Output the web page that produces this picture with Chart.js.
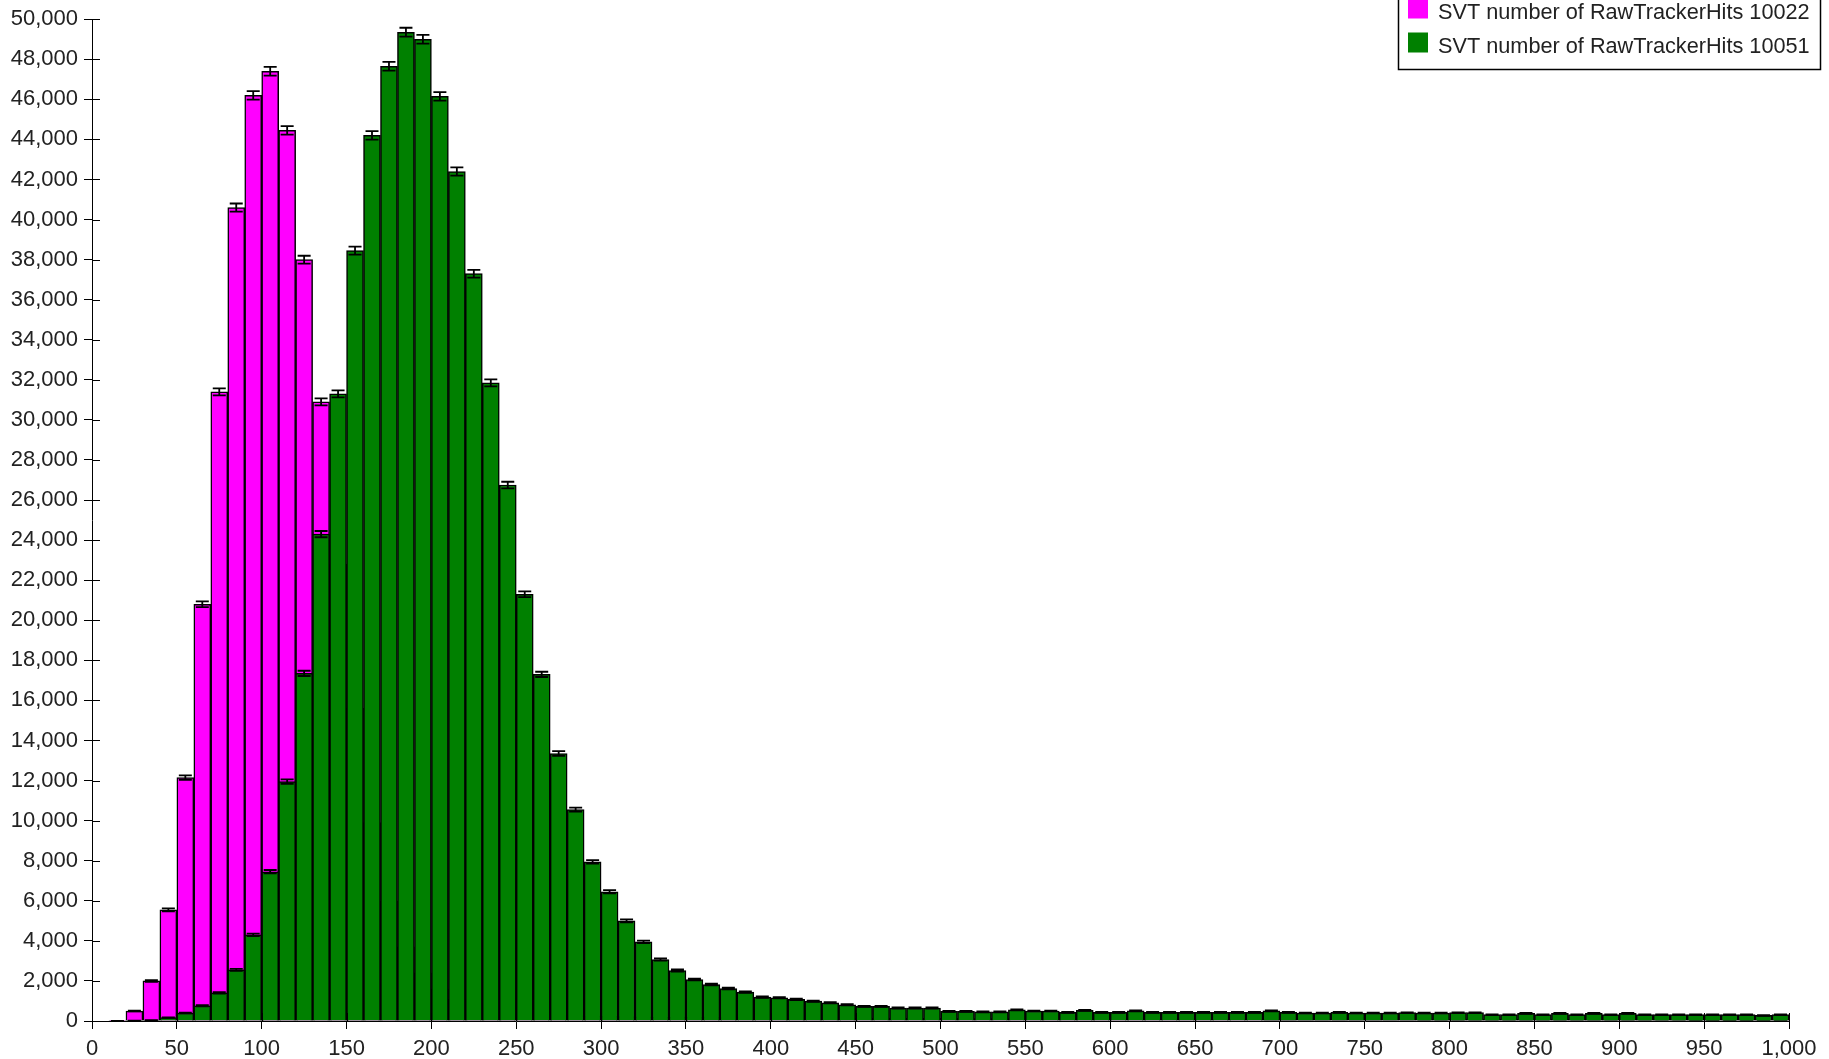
<!DOCTYPE html>
<html>
<head>
<meta charset="utf-8">
<script src="https://cdn.jsdelivr.net/npm/chart.js@4/dist/chart.umd.min.js"></script>
<style>
  html, body { margin: 0; padding: 0; background: #ffffff; }
  #wrap { width: 1829px; height: 1059px; position: relative; }
</style>
</head>
<body>
<div id="wrap"><canvas id="hist" width="1829" height="1059"></canvas></div>
<script>
// Histogram binning: 100 bins of width 10 from 0 to 1000
const binLow = 0;
const binHigh = 1000;
const binWidth = 10;
const xTickStep = 50;
const yMax = 50000;
const yTickStep = 2000;

const seriesLabels = [
  'SVT number of RawTrackerHits 10022',
  'SVT number of RawTrackerHits 10051'
];
const seriesColors = ['#ff00ff', '#008000'];

// Entries per bin, run 10022
const hits10022 = [
  0, 5, 500, 2000, 5550, 12150, 20800, 31400, 40600, 46200,
  47400, 44450, 38000, 30900, 22800, 15600, 9900, 6000, 3700, 2400,
  1600, 1100, 800, 600, 480, 400, 340, 300, 270, 250,
  230, 220, 210, 200, 190, 185, 180, 175, 170, 165,
  160, 155, 150, 150, 145, 140, 140, 135, 135, 130,
  130, 125, 125, 120, 120, 120, 115, 115, 115, 110,
  110, 110, 105, 105, 105, 100, 100, 100, 100, 95,
  95, 95, 95, 90, 90, 90, 90, 90, 85, 85,
  85, 85, 85, 80, 80, 80, 80, 80, 80, 75,
  75, 75, 75, 75, 70, 70, 70, 70, 70, 70
];

// Entries per bin, run 10051
const hits10051 = [
  0, 0, 10, 40, 170, 400, 760, 1400, 2550, 4300,
  7450, 11950, 17350, 24300, 31300, 38450, 44200, 47650, 49350, 49000,
  46150, 42400, 37300, 31850, 26750, 21300, 17300, 13350, 10550, 7940,
  6450, 5000, 3950, 3070, 2520, 2070, 1820, 1620, 1440, 1190,
  1160, 1080, 990, 910, 810, 730, 730, 650, 650, 650,
  480, 480, 455, 455, 560, 500, 500, 430, 530, 430,
  430, 510, 430, 430, 430, 430, 430, 430, 430, 510,
  430, 400, 400, 430, 400, 400, 400, 415, 400, 400,
  415, 415, 315, 315, 380, 315, 380, 315, 380, 315,
  380, 315, 315, 315, 315, 315, 315, 315, 280, 315
];

const binCenters = hits10022.map((_, i) => binLow + binWidth * (i + 0.5));
const toPoints = (counts) => counts.map((c, i) => ({ x: binCenters[i], y: c }));

const tickFont = { family: '"Liberation Sans", Arial, sans-serif', size: 22 };
const textColor = '#222222';

// Statistical (sqrt N) error bars, drawn right after each dataset so that
// a later dataset covers the bars and errors underneath it.
const errorBars = {
  id: 'errorBars',
  afterDatasetDraw(chart, args) {
    const ctx = chart.ctx;
    const yScale = chart.scales.y;
    const pts = chart.data.datasets[args.index].data;
    ctx.save();
    ctx.strokeStyle = '#000000';
    ctx.lineWidth = 1.8;
    args.meta.data.forEach((bar, i) => {
      const v = pts[i].y;
      if (!v) return;
      const e = Math.sqrt(v);
      const yTop = yScale.getPixelForValue(v + e);
      const yBot = yScale.getPixelForValue(v - e);
      const half = 6.5;
      ctx.beginPath();
      ctx.moveTo(bar.x, yTop); ctx.lineTo(bar.x, yBot);
      ctx.moveTo(bar.x - half, yTop); ctx.lineTo(bar.x + half, yTop);
      ctx.moveTo(bar.x - half, yBot); ctx.lineTo(bar.x + half, yBot);
      ctx.stroke();
    });
    ctx.restore();
  }
};

// Tick marks that also reach into the plot, crossing the axis lines
const innerTicks = {
  id: 'innerTicks',
  afterDraw(chart) {
    const ctx = chart.ctx;
    const xs = chart.scales.x, ys = chart.scales.y;
    const len = 8;
    ctx.save();
    ctx.strokeStyle = '#000000';
    ctx.lineWidth = 1;
    ctx.beginPath();
    xs.ticks.forEach(t => {
      const px = Math.round(xs.getPixelForValue(t.value)) + 0.5;
      ctx.moveTo(px, xs.top); ctx.lineTo(px, xs.top - len);
    });
    ys.ticks.forEach(t => {
      const py = Math.round(ys.getPixelForValue(t.value)) + 0.5;
      ctx.moveTo(ys.right, py); ctx.lineTo(ys.right + len, py);
    });
    ctx.stroke();
    ctx.restore();
  }
};

// Boxed legend in the top-right corner
const boxLegend = {
  id: 'boxLegend',
  afterDraw(chart) {
    const ctx = chart.ctx;
    const left = 1398.5, right = 1820.5, bottom = 69.5, top = -10;
    ctx.save();
    ctx.fillStyle = '#ffffff';
    ctx.fillRect(left, top, right - left, bottom - top);
    ctx.strokeStyle = '#000000';
    ctx.lineWidth = 1.5;
    ctx.strokeRect(left, top, right - left, bottom - top);
    ctx.font = '21.7px "Liberation Sans", Arial, sans-serif';
    ctx.textBaseline = 'alphabetic';
    ctx.textAlign = 'left';
    chart.data.datasets.forEach((ds, i) => {
      const base = 18.5 + i * 34;
      ctx.fillStyle = ds.backgroundColor;
      ctx.fillRect(1408, base - 20, 20, 20);
      ctx.fillStyle = textColor;
      ctx.fillText(ds.label, 1438, base);
    });
    ctx.restore();
  }
};

new Chart(document.getElementById('hist'), {
  type: 'bar',
  data: {
    datasets: [
      {
        label: seriesLabels[0],
        data: toPoints(hits10022),
        backgroundColor: seriesColors[0],
        borderColor: '#000000',
        borderWidth: 1.5,
        order: 2
      },
      {
        label: seriesLabels[1],
        data: toPoints(hits10051),
        backgroundColor: seriesColors[1],
        borderColor: '#000000',
        borderWidth: 1.5,
        order: 1
      }
    ]
  },
  options: {
    responsive: false,
    devicePixelRatio: 1,
    animation: false,
    grouped: false,
    barPercentage: 1,
    categoryPercentage: 1,
    layout: { padding: { top: 16, right: 40, left: 0, bottom: 0 } },
    plugins: {
      legend: { display: false },
      tooltip: { enabled: false },
      title: { display: false }
    },
    scales: {
      x: {
        type: 'linear',
        min: binLow,
        max: binHigh,
        offset: false,
        z: 1,
        grid: { display: true, drawOnChartArea: false, drawTicks: true, tickLength: 8, color: '#000000', offset: false },
        border: { display: true, color: '#000000', width: 1 },
        ticks: {
          stepSize: xTickStep,
          autoSkip: false,
          maxRotation: 0,
          padding: 7,
          color: textColor,
          font: tickFont,
          callback: (v) => Number(v).toLocaleString('en-US')
        },
        afterFit: (s) => { s.height = 38; }
      },
      y: {
        min: 0,
        max: yMax,
        z: 1,
        grid: { display: true, drawOnChartArea: false, drawTicks: true, tickLength: 8, color: '#000000' },
        border: { display: true, color: '#000000', width: 1 },
        ticks: {
          stepSize: yTickStep,
          autoSkip: false,
          padding: 6,
          color: textColor,
          font: tickFont,
          callback: (v) => Number(v).toLocaleString('en-US')
        },
        afterFit: (s) => { s.width = 92; }
      }
    }
  },
  plugins: [errorBars, innerTicks, boxLegend]
});
</script>
</body>
</html>
